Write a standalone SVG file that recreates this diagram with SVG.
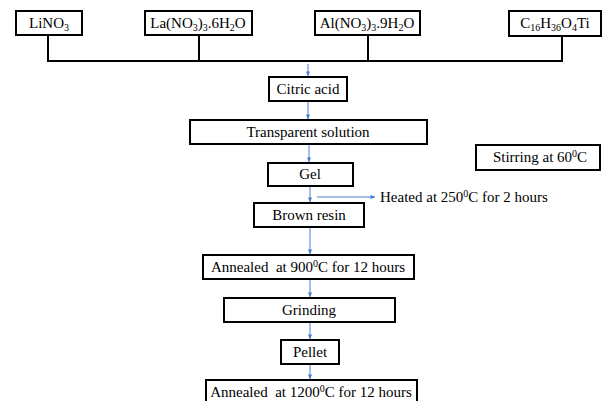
<svg xmlns="http://www.w3.org/2000/svg" width="603" height="401" viewBox="0 0 603 401">
<defs>
<marker id="ah" viewBox="0 0 6 6" refX="5.5" refY="3" markerWidth="5" markerHeight="5" orient="auto" markerUnits="userSpaceOnUse">
<path d="M0,0.5 L6,3 L0,5.5 z" fill="#4a7fd4"/>
</marker>
<style>
.box{fill:#fff;stroke:#000;stroke-width:2}
text{font-family:"Liberation Serif","Times New Roman",serif;font-size:15px;fill:#000}
.t{text-anchor:middle}
.s{font-size:10px}
.bl{stroke:#000;stroke-width:2;fill:none}
.ar{stroke:#4a7fd4;stroke-width:1;fill:none;marker-end:url(#ah)}
</style>
</defs>
<rect width="603" height="401" fill="#fff"/>
<g id="connectors">
<polyline class="bl" points="48,35 48,61 562,61 562,36"/>
<line class="bl" x1="199" y1="35" x2="199" y2="61"/>
<line class="bl" x1="368" y1="35" x2="368" y2="61"/>
<line class="ar" x1="308" y1="64" x2="308" y2="76"/>
<line class="ar" x1="308" y1="101" x2="308" y2="119"/>
<line class="ar" x1="309" y1="144" x2="309" y2="162"/>
<line class="ar" x1="310" y1="187" x2="310" y2="202"/>
<line class="ar" x1="317" y1="197" x2="375" y2="197"/>
<line class="ar" x1="310" y1="228" x2="310" y2="254"/>
<line class="ar" x1="310" y1="280" x2="310" y2="297"/>
<line class="ar" x1="310" y1="323" x2="310" y2="339"/>
<line class="ar" x1="310" y1="365" x2="310" y2="379"/>
</g>
<g id="n-lino3">
<rect class="box" x="16" y="11" width="66" height="24"/>
<text class="t" font-family="Liberation Serif, serif" x="49" y="28">LiNO<tspan class="s" dy="3">3</tspan></text>
</g>
<g id="n-la">
<rect class="box" x="145" y="11" width="107" height="24"/>
<text class="t" font-family="Liberation Serif, serif" x="198" y="28">La(NO<tspan class="s" dy="3">3</tspan><tspan dy="-3">)</tspan><tspan class="s" dy="3">3</tspan><tspan dy="-3">.6H</tspan><tspan class="s" dy="3">2</tspan><tspan dy="-3">O</tspan></text>
</g>
<g id="n-al">
<rect class="box" x="315" y="11" width="105" height="24"/>
<text class="t" font-family="Liberation Serif, serif" x="367" y="28">Al(NO<tspan class="s" dy="3">3</tspan><tspan dy="-3">)</tspan><tspan class="s" dy="3">3</tspan><tspan dy="-3">.9H</tspan><tspan class="s" dy="3">2</tspan><tspan dy="-3">O</tspan></text>
</g>
<g id="n-ti">
<rect class="box" x="509" y="11" width="92" height="25"/>
<text class="t" font-family="Liberation Serif, serif" x="555" y="28">C<tspan class="s" dy="3">16</tspan><tspan dy="-3">H</tspan><tspan class="s" dy="3">36</tspan><tspan dy="-3">O</tspan><tspan class="s" dy="3">4</tspan><tspan dy="-3">Ti</tspan></text>
</g>
<g id="n-citric">
<rect class="box" x="269" y="77" width="78" height="24"/>
<text class="t" font-family="Liberation Serif, serif" x="308" y="94">Citric acid</text>
</g>
<g id="n-transparent">
<rect class="box" x="190" y="120" width="237" height="24"/>
<text class="t" font-family="Liberation Serif, serif" x="308" y="137">Transparent solution</text>
</g>
<g id="n-stirring">
<rect class="box" x="476" y="145" width="124" height="25"/>
<text class="t" font-family="Liberation Serif, serif" x="540" y="162">Stirring at 60<tspan class="s" dy="-5">0</tspan><tspan dy="5">C</tspan></text>
</g>
<g id="n-gel">
<rect class="box" x="268" y="163" width="85" height="23"/>
<text class="t" font-family="Liberation Serif, serif" x="310" y="179">Gel</text>
</g>
<g id="n-heated">
<text font-family="Liberation Serif, serif" x="380" y="202">Heated at 250<tspan class="s" dy="-5">0</tspan><tspan dy="5">C for 2 hours</tspan></text>
</g>
<g id="n-brown">
<rect class="box" x="254" y="203" width="110" height="24"/>
<text class="t" font-family="Liberation Serif, serif" x="309" y="220">Brown resin</text>
</g>
<g id="n-ann900">
<rect class="box" x="203" y="255" width="211" height="24"/>
<text class="t" font-family="Liberation Serif, serif" xml:space="preserve" x="308" y="272">Annealed  at 900<tspan class="s" dy="-5">0</tspan><tspan dy="5">C for 12 hours</tspan></text>
</g>
<g id="n-grinding">
<rect class="box" x="224" y="298" width="171" height="24"/>
<text class="t" font-family="Liberation Serif, serif" x="309" y="315">Grinding</text>
</g>
<g id="n-pellet">
<rect class="box" x="281" y="340" width="58" height="24"/>
<text class="t" font-family="Liberation Serif, serif" x="310" y="357">Pellet</text>
</g>
<g id="n-ann1200">
<rect class="box" x="206" y="380" width="211" height="24"/>
<text class="t" font-family="Liberation Serif, serif" xml:space="preserve" x="311" y="397">Annealed  at 1200<tspan class="s" dy="-5">0</tspan><tspan dy="5">C for 12 hours</tspan></text>
</g>
</svg>
